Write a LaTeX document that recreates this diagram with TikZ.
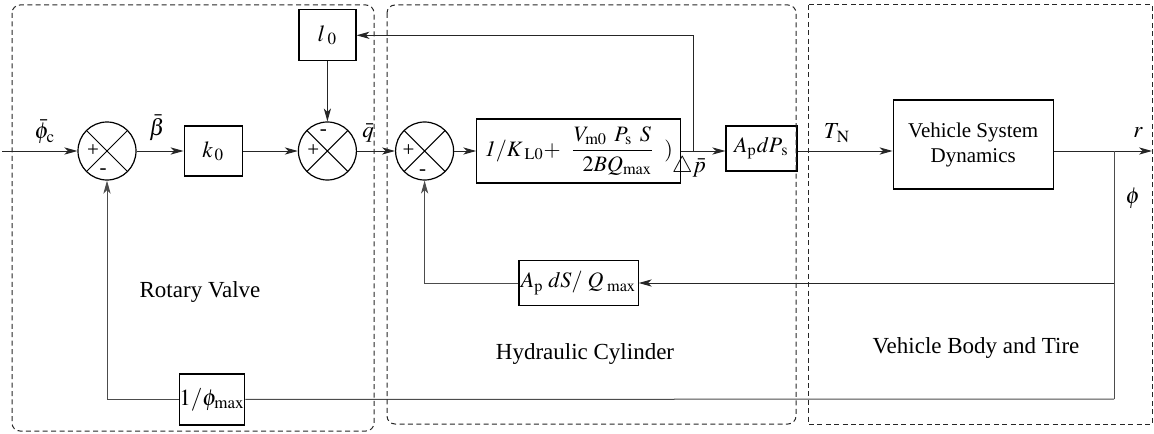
\documentclass[tikz,border=0pt]{standalone}
\usepackage{amsmath}
\usepackage{mathptmx}
\usepackage{fontspec}
\setmainfont{Liberation Serif}
\newfontfamily\timesfont{Liberation Serif}
\usetikzlibrary{arrows.meta,positioning,calc}

\begin{document}
\begin{tikzpicture}[
    x=0.5pt, y=-0.5pt,
    line width=0.5pt,
    node distance=20pt,
    block/.style={rectangle, draw, line width=0.6pt, minimum width=29pt, minimum height=25pt, inner sep=1pt, align=center, font=\timesfont\fontsize{11.5}{13}\selectfont},
    sumnode/.style={circle, draw, line width=0.6pt, minimum size=29pt, inner sep=0pt, path picture={\draw[line width=0.5pt] (path picture bounding box.north west) -- (path picture bounding box.south east) (path picture bounding box.north east) -- (path picture bounding box.south west);}},
    sign/.style={inner sep=0pt, font=\timesfont\fontsize{10.5}{11}\selectfont},
    lbl/.style={inner sep=0pt, font=\timesfont\fontsize{11.5}{13}\selectfont},
    arrow/.style={->, >={Stealth[length=6.5pt,width=3.6pt,inset=1.8pt]}, draw=black!85},
    line/.style={draw=black!70},
    frame/.style={draw=black!85, dash pattern=on 2.5pt off 1.7pt, line width=0.5pt},
]
\useasboundingbox (0,0) rectangle (1154,433);

% === FORWARD PATH ===
\node[sumnode] (sum1) at (107,151) {};
\node[block, right=23.5pt of sum1] (k0) {$k_{\,0}$};
\node[sumnode, right=27.5pt of k0] (sum2) {};
\node[sumnode, right=19pt of sum2] (sum3) {};
\node[block, right=11pt of sum3, minimum width=102pt, minimum height=32pt, font=\timesfont\fontsize{11}{13}\selectfont] (hyd) {$\mathit{1}/K_{\;\mathrm{L0}}{+}\;\;\dfrac{V_{\mathrm{m0}}\;\,P_{\mathrm{s}}\;\,S}{\;\;2BQ_{\max}}\;\;)$};
\node[block, right=22pt of hyd, minimum width=35.5pt, minimum height=22.5pt, yshift=1.25pt, font=\timesfont\fontsize{11}{13}\selectfont] (apdps) {$A_{\mathrm{p}}dP_{\,\mathrm{s}}$};
\node[block, right=47.5pt of apdps, minimum width=80pt, minimum height=44.5pt, yshift=2pt, font=\timesfont\fontsize{10.5}{12.5}\selectfont] (veh) {Vehicle System\\Dynamics};

% === FEEDBACK BLOCKS ===
\node[block, above=30pt of sum2, minimum width=28.5pt, minimum height=25.5pt] (l0) {$l_{\;0}$};
\node[block, minimum width=57.5pt, minimum height=22.5pt, font=\timesfont\fontsize{11}{13}\selectfont] (apds) at (578.5,283) {$A_{\mathrm{p}}\;dS/\;Q_{\;\max}$};
\node[block, minimum width=29pt, minimum height=25.5pt, inner sep=0pt] (inv) at (212,399.5) {$1/\phi_{\max}$};

% === SIGNS ===
\node[sign] (s1p) at ([xshift=-7pt]sum1.center) {+};
\node[sign] (s1m) at ([xshift=-2pt,yshift=-10.5pt]sum1.center) {-};
\node[sign] (s2p) at ([xshift=-7pt]sum2.center) {+};
\node[sign] (s2m) at ([xshift=-2pt,yshift=9pt]sum2.center) {-};
\node[sign] (s3p) at ([xshift=-8pt]sum3.center) {+};
\node[sign] (s3m) at ([xshift=-1pt,yshift=-11pt]sum3.center) {-};

% === COORDINATES ===
\coordinate (in) at (2,151);
\coordinate (tap) at (693,151);
\coordinate (br) at (1114,151);
\coordinate (out) at (1152,151);
\coordinate (br2) at (1114,283);
\coordinate (br3) at (1114,399);

% === ARROWS ===
\draw[arrow] (in) -- (sum1);
\draw[arrow] (sum1) -- (k0);
\draw[arrow] (k0) -- (sum2);
\draw[arrow] (sum2) -- (sum3);
\draw[arrow] (sum3) -- (hyd);
\draw[arrow] (hyd.east) -- (hyd.east -| apdps.west);
\draw[arrow] (apdps.east |- hyd.east) -- (veh.west |- hyd.east);
\draw[arrow] (veh.east |- hyd.east) -- (out);

\draw[arrow] (tap) |- (l0);
\draw[arrow] (l0) -- (sum2);
\draw[line] (br) -- (br3);
\draw[arrow] (br2) -- (apds);
\draw[arrow, draw=black!70] (apds) -| (sum3);
\draw[line] (br3) -- (inv);
\draw[arrow, draw=black!70] (inv) -| (sum1);

% === LABELS ===
\node[lbl] (phic) at (45,132) {$\bar{\phi}_{\mathrm{c}}$};
\node[lbl] (beta) at (157,128) {$\bar{\beta}$};
\node[lbl] (q) at (368,133) {$\bar{q}$};
\node[lbl] (dp) at (689,167) {$\bigtriangleup\bar{p}$};
\node[lbl] (tn) at (837,133) {$T_{\,\mathrm{N}}$};
\node[lbl] (r) at (1138,133) {$r$};
\node[lbl] (phi) at (1133,198) {$\phi$};
\node[lbl] (rv) at (200,292) {Rotary Valve};
\node[lbl] (hc) at (585,354) {Hydraulic Cylinder};
\node[lbl] (vbt) at (976,348) {Vehicle Body and Tire};

% === FRAMES ===
\draw[frame, rounded corners=4pt] (12,5) rectangle (374,431);
\draw[frame, rounded corners=4pt] (387,5) rectangle (796,424);
\draw[frame] (808,5) rectangle (1152,424);

\end{tikzpicture}
\end{document}
